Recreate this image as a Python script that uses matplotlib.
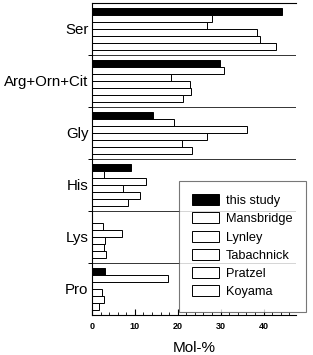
import matplotlib
matplotlib.use("Agg")
import matplotlib.pyplot as plt
import numpy as np
from matplotlib.ticker import MultipleLocator

plt.rcParams['font.family'] = ['Liberation Sans', 'DejaVu Sans']

categories = ["Ser", "Arg+Orn+Cit", "Gly", "His", "Lys", "Pro"]
series_names = ["this study", "Mansbridge", "Lynley", "Tabachnick", "Pratzel", "Koyama"]
this_study = [44.2, 29.9, 14.3, 9.2, 0.0, 3.0]
mansbridge = [27.9, 30.8, 19.1, 2.8, 2.5, 17.8]
lynley = [26.8, 18.5, 36.2, 12.6, 7.0, 0.0]
tabachnick = [38.4, 22.9, 26.9, 7.3, 3.0, 2.4]
pratzel = [39.2, 23.2, 21.1, 11.3, 2.8, 2.8]
koyama = [42.9, 21.2, 23.4, 8.3, 3.2, 1.6]
series = [this_study, mansbridge, lynley, tabachnick, pratzel, koyama]
colors = ["black", "white", "white", "white", "white", "white"]

fig = plt.figure(figsize=(3.13, 3.55), dpi=100)
ax = fig.add_axes([0.294, 0.113, 0.652, 0.879])

n = len(categories)
bh = 0.135
y = np.arange(n)
for k, (vals, c, name) in enumerate(zip(series, colors, series_names)):
    offs = (k - 2.5) * bh
    ax.barh(y + offs, vals, height=bh, color=c, edgecolor="black",
            linewidth=0.7, label=name)

for b in np.arange(0.5, n - 0.5, 1.0):
    ax.axhline(b, color="#333333", linewidth=0.7)

ax.set_ylim(n - 0.5, -0.5)
ax.set_xlim(0, 47.6)
ax.set_yticks(y)
ax.set_yticklabels(categories, fontsize=10.8)
ax.set_yticks(np.arange(0.5, n - 0.5, 1.0), minor=True)
ax.tick_params(axis='y', which='major', length=0, pad=2.5)
ax.tick_params(axis='y', which='minor', length=3, direction='out', width=0.7)

ax.xaxis.set_major_locator(MultipleLocator(10))
ax.xaxis.set_minor_locator(MultipleLocator(2))
ax.tick_params(axis='x', which='major', direction='in', length=4, width=0.8,
               labelsize=6.5, pad=5)
ax.tick_params(axis='x', which='minor', direction='in', length=2, width=0.6)
for lab in ax.get_xticklabels():
    lab.set_fontweight('bold')

ax.set_xlabel("Mol-%", fontsize=11, labelpad=7)

ax.spines['right'].set_visible(False)
for s in ['left', 'top', 'bottom']:
    ax.spines[s].set_linewidth(0.8)

leg = ax.legend(loc='lower right', bbox_to_anchor=(1.05, 0.01), fontsize=9.2,
                frameon=True, fancybox=False, handlelength=2.1, handleheight=0.95,
                handletextpad=0.55, labelspacing=0.42, borderpad=1.05,
                borderaxespad=0.0, edgecolor="#555555")
leg.get_frame().set_linewidth(0.8)

fig.savefig("out.png", dpi=100)
